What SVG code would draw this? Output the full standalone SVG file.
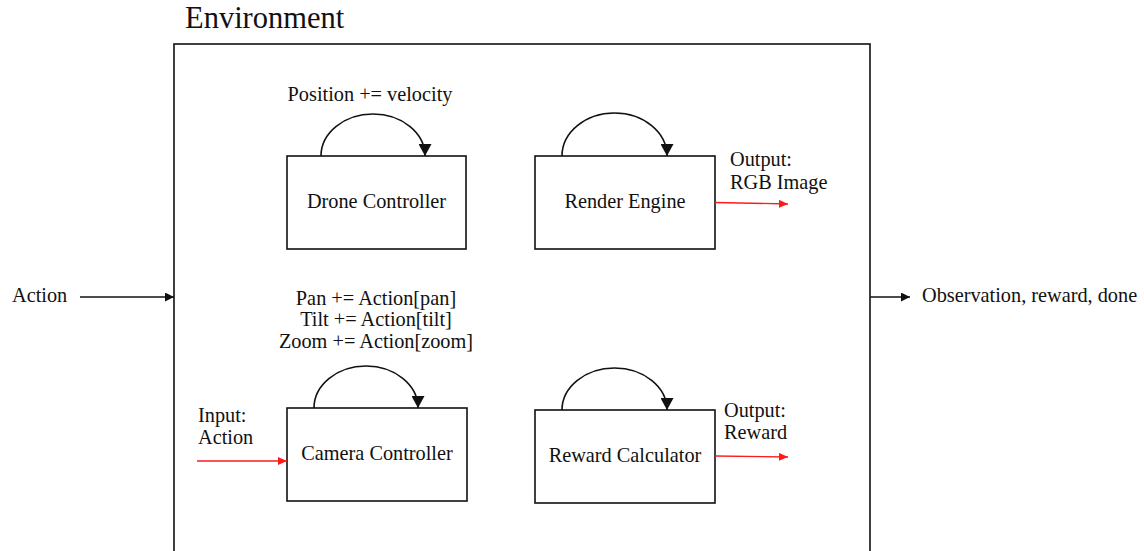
<svg xmlns="http://www.w3.org/2000/svg" width="1144" height="551" viewBox="0 0 1144 551">
<style>
text{font-family:'Liberation Serif','DejaVu Serif',serif;font-size:20.3px;fill:#111}
.box{fill:none;stroke:#111;stroke-width:1.6}
.loop{fill:none;stroke:#111;stroke-width:1.6}
.blk{stroke:#111;stroke-width:1.3;fill:none}
.red{stroke:#ff1a1a;stroke-width:1.3;fill:none}
.c{text-anchor:middle}
</style>
<defs>
<marker id="ah" markerUnits="userSpaceOnUse" markerWidth="14" markerHeight="13" refX="12" refY="6.5" orient="auto"><path d="M0,0 L12,6.5 L0,13 z" fill="#111"/></marker>
<marker id="ab" markerUnits="userSpaceOnUse" markerWidth="10" markerHeight="9" refX="9" refY="4.5" orient="auto"><path d="M0,0 L9,4.5 L0,9 z" fill="#111"/></marker>
<marker id="ar" markerUnits="userSpaceOnUse" markerWidth="10" markerHeight="8" refX="9" refY="4" orient="auto"><path d="M0,0 L9,4 L0,8 z" fill="#ff1a1a"/></marker>
</defs>
<g id="environment">
<rect class="box" x="174" y="44" width="696" height="520"/>
<text x="185" y="28" style="font-size:30.5px">Environment</text>
</g>
<g id="drone-controller">
<rect class="box" x="287" y="156" width="179" height="93"/>
<text class="c" x="376.5" y="208">Drone Controller</text>
<text class="c" x="370" y="101">Position += velocity</text>
</g>
<g id="render-engine">
<rect class="box" x="535" y="156" width="180" height="93"/>
<text class="c" x="625" y="208">Render Engine</text>
<text x="730" y="166">Output:</text>
<text x="730" y="189">RGB Image</text>
</g>
<g id="camera-controller">
<rect class="box" x="287" y="408" width="180" height="93"/>
<text class="c" x="377" y="460">Camera Controller</text>
<text class="c" x="376" y="305">Pan += Action[pan]</text>
<text class="c" x="376" y="326">Tilt += Action[tilt]</text>
<text class="c" x="376" y="348">Zoom += Action[zoom]</text>
<text x="198" y="422">Input:</text>
<text x="198" y="444">Action</text>
</g>
<g id="reward-calculator">
<rect class="box" x="535" y="410" width="180" height="93"/>
<text class="c" x="625" y="462">Reward Calculator</text>
<text x="724" y="417">Output:</text>
<text x="724" y="439">Reward</text>
</g>
<g id="action-label"><text x="12" y="302">Action</text></g>
<g id="output-label"><text x="922" y="302">Observation, reward, done</text></g>
<g id="connectors">
<path class="loop" d="M321,156 A52,42 0 0 1 425,156" marker-end="url(#ah)"/>
<path class="loop" d="M562,156 A52.5,43 0 0 1 667,156" marker-end="url(#ah)"/>
<path class="loop" d="M314,408 A52,42 0 0 1 418,408" marker-end="url(#ah)"/>
<path class="loop" d="M562,410 A52.5,42 0 0 1 667,410" marker-end="url(#ah)"/>
<line class="blk" x1="80" y1="297" x2="174" y2="297" marker-end="url(#ab)"/>
<line class="blk" x1="870" y1="297" x2="910" y2="297" marker-end="url(#ab)"/>
<line class="red" x1="715" y1="202.5" x2="788" y2="204" marker-end="url(#ar)"/>
<line class="red" x1="715" y1="456" x2="788" y2="457" marker-end="url(#ar)"/>
<line class="red" x1="197" y1="461" x2="287" y2="461" marker-end="url(#ar)"/>
</g>
</svg>
